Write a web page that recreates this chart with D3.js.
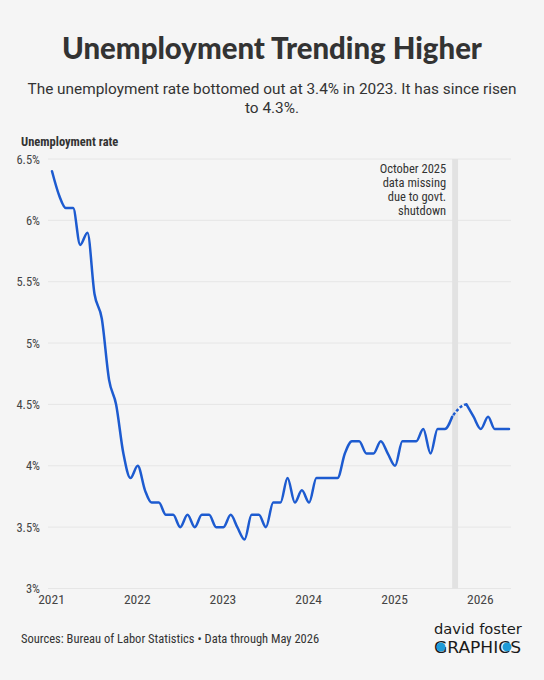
<!DOCTYPE html>
<html>
<head>
<meta charset="utf-8">
<script src="https://cdn.jsdelivr.net/npm/d3@7"></script>
<style>
body { margin: 0; background: #f5f5f5; }
svg { display: block; }
.cond { font-family: "Roboto Condensed", "Liberation Sans Narrow", "DejaVu Sans Condensed", sans-serif; }
</style>
</head>
<body>
<div id="chart"></div>
<script>
// monthly unemployment rate, Jan 2021 - May 2026 (Oct 2025 missing)
var rate2021 = [6.4, 6.2, 6.1, 6.1, 5.8, 5.9, 5.4, 5.2, 4.7, 4.5, 4.1, 3.9];
var rate2022 = [4.0, 3.8, 3.7, 3.7, 3.6, 3.6, 3.5, 3.6, 3.5, 3.6, 3.6, 3.5];
var rate2023 = [3.5, 3.6, 3.5, 3.4, 3.6, 3.6, 3.5, 3.7, 3.7, 3.9, 3.7, 3.8];
var rate2024 = [3.7, 3.9, 3.9, 3.9, 3.9, 4.1, 4.2, 4.2, 4.1, 4.1, 4.2, 4.1];
var rate2025 = [4.0, 4.2, 4.2, 4.2, 4.3, 4.1, 4.3, 4.3, 4.4, null, 4.5, 4.4];
var rate2026 = [4.3, 4.4, 4.3, 4.3, 4.3];

var years = [2021, 2022, 2023, 2024, 2025, 2026];
var yTicks = [3, 3.5, 4, 4.5, 5, 5.5, 6, 6.5];
var gapDates = ["2025-09-01", "2025-09-26"];
var noteLines = ["October 2025", "data missing", "due to govt.", "shutdown"];

var width = 544, height = 680;
var margin = { top: 159, right: 35, bottom: 92, left: 52 };

var data = [].concat(rate2021, rate2022, rate2023, rate2024, rate2025, rate2026)
    .map(function (v, i) {
        return { date: new Date(2021, i, 1), v: v };
    });

var svg = d3.select("#chart")
    .append("svg")
    .attr("width", width)
    .attr("height", height);

svg.append("rect").attr("width", width).attr("height", height).attr("fill", "#f5f5f5");

function fit(t, w) {
    var fs = parseFloat(t.attr("font-size"));
    var l = t.node().getComputedTextLength();
    t.attr("font-size", fs * w / l);
    return fs * w / l;
}

// titles
var title = svg.append("text")
    .attr("x", width / 2).attr("y", 59)
    .attr("text-anchor", "middle")
    .attr("font-family", "Lato, 'Noto Sans', sans-serif")
    .attr("font-weight", 900)
    .attr("font-size", 28)
    .attr("fill", "#333")
    .text("Unemployment Trending Higher");
fit(title, 420);

var sub1 = svg.append("text")
    .attr("x", width / 2).attr("y", 94)
    .attr("text-anchor", "middle")
    .attr("font-family", "Roboto, sans-serif")
    .attr("font-size", 16)
    .attr("fill", "#333")
    .text("The unemployment rate bottomed out at 3.4% in 2023. It has since risen");
var subSize = fit(sub1, 489);
svg.append("text")
    .attr("x", width / 2).attr("y", 113)
    .attr("text-anchor", "middle")
    .attr("font-family", "Roboto, sans-serif")
    .attr("font-size", subSize)
    .attr("fill", "#333")
    .text("to 4.3%.");

svg.append("text")
    .attr("class", "cond")
    .attr("x", 21).attr("y", 146)
    .attr("font-size", 12.5)
    .attr("font-weight", "bold")
    .attr("fill", "#333")
    .text("Unemployment rate");

// scales
var x = d3.scaleTime()
    .domain([new Date(2021, 0, 1), new Date(2026, 4, 1)])
    .range([margin.left, width - margin.right]);
var y = d3.scaleLinear()
    .domain([3, 6.5])
    .range([height - margin.bottom + 0.5, margin.top]);

// grid
svg.append("g")
    .selectAll("line")
    .data(yTicks)
    .enter()
    .append("line")
    .attr("x1", margin.left - 4)
    .attr("x2", width - margin.right + 2)
    .attr("y1", d => y(d))
    .attr("y2", d => y(d))
    .attr("stroke", "#e6e6e6")
    .attr("stroke-width", 1);

// y labels
var yAxis = svg.append("g")
    .attr("transform", "translate(" + (margin.left - 9) + ",0)")
    .call(d3.axisLeft(y).tickValues(yTicks).tickSize(0).tickFormat(d => d + "%"));
yAxis.select(".domain").remove();
yAxis.selectAll("text")
    .attr("class", "cond")
    .attr("font-size", 12.5)
    .attr("fill", "#444");

// x labels
var xAxis = svg.append("g")
    .attr("transform", "translate(-1," + (height - margin.bottom) + ")")
    .call(d3.axisBottom(x)
        .tickValues(years.map(d => new Date(d, 0, 1)))
        .tickSize(0)
        .tickFormat(d3.timeFormat("%Y")));
xAxis.select(".domain").remove();
xAxis.selectAll("text")
    .attr("class", "cond")
    .attr("font-size", 13.5)
    .attr("fill", "#444")
    .attr("dy", "0.95em");

// missing data band
var parse = d3.timeParse("%Y-%m-%d");
svg.append("rect")
    .attr("x", x(parse(gapDates[0])))
    .attr("width", x(parse(gapDates[1])) - x(parse(gapDates[0])))
    .attr("y", y(6.5))
    .attr("height", y(3) - y(6.5))
    .attr("fill", "#e2e2e2");

svg.append("g")
    .selectAll("text")
    .data(noteLines)
    .enter()
    .append("text")
    .attr("class", "cond")
    .attr("x", x(parse(gapDates[0])) - 6)
    .attr("y", (d, i) => 173 + i * 14)
    .attr("text-anchor", "end")
    .attr("font-size", 12.5)
    .attr("fill", "#333")
    .text(d => d);

// lines
var line = d3.line()
    .defined(d => d.v != null)
    .x(d => x(d.date))
    .y(d => y(d.v))
    .curve(d3.curveMonotoneX);

var known = data.filter(d => d.v != null);
var gapIdx = data.findIndex(d => d.v == null);

svg.append("clipPath")
    .attr("id", "gapclip")
    .append("rect")
    .attr("x", x(data[gapIdx - 1].date))
    .attr("width", x(data[gapIdx + 1].date) - x(data[gapIdx - 1].date))
    .attr("y", 0)
    .attr("height", height);

svg.append("path")
    .datum(known)
    .attr("clip-path", "url(#gapclip)")
    .attr("fill", "none")
    .attr("stroke", "#1d5bd0")
    .attr("stroke-width", 2.5)
    .attr("stroke-dasharray", "3,2")
    .attr("d", line);

svg.append("path")
    .datum(data)
    .attr("fill", "none")
    .attr("stroke", "#1d5bd0")
    .attr("stroke-width", 2.5)
    .attr("stroke-linejoin", "round")
    .attr("stroke-linecap", "round")
    .attr("d", line);

// footer
svg.append("text")
    .attr("class", "cond")
    .attr("x", 21).attr("y", 643)
    .attr("font-size", 12.5)
    .attr("fill", "#333")
    .text("Sources: Bureau of Labor Statistics \u2022 Data through May 2026");

var logo1 = svg.append("text")
    .attr("x", 434).attr("y", 634)
    .attr("font-family", "'DejaVu Sans', sans-serif")
    .attr("font-size", 14)
    .attr("fill", "#1a1a1a")
    .text("david foster");
fit(logo1, 88);
var logo2 = svg.append("text")
    .attr("x", 434).attr("y", 653)
    .attr("font-family", "'DejaVu Sans', sans-serif")
    .attr("font-size", 16)
    .attr("textLength", 87)
    .attr("lengthAdjust", "spacingAndGlyphs")
    .attr("fill", "#1a1a1a")
    .text("GRAPHICS");
svg.append("circle").attr("cx", 441).attr("cy", 647).attr("r", 4.5).attr("fill", "#1e9bd7");
svg.append("circle").attr("cx", 507).attr("cy", 647).attr("r", 4.5).attr("fill", "#1e9bd7");
</script>
</body>
</html>
